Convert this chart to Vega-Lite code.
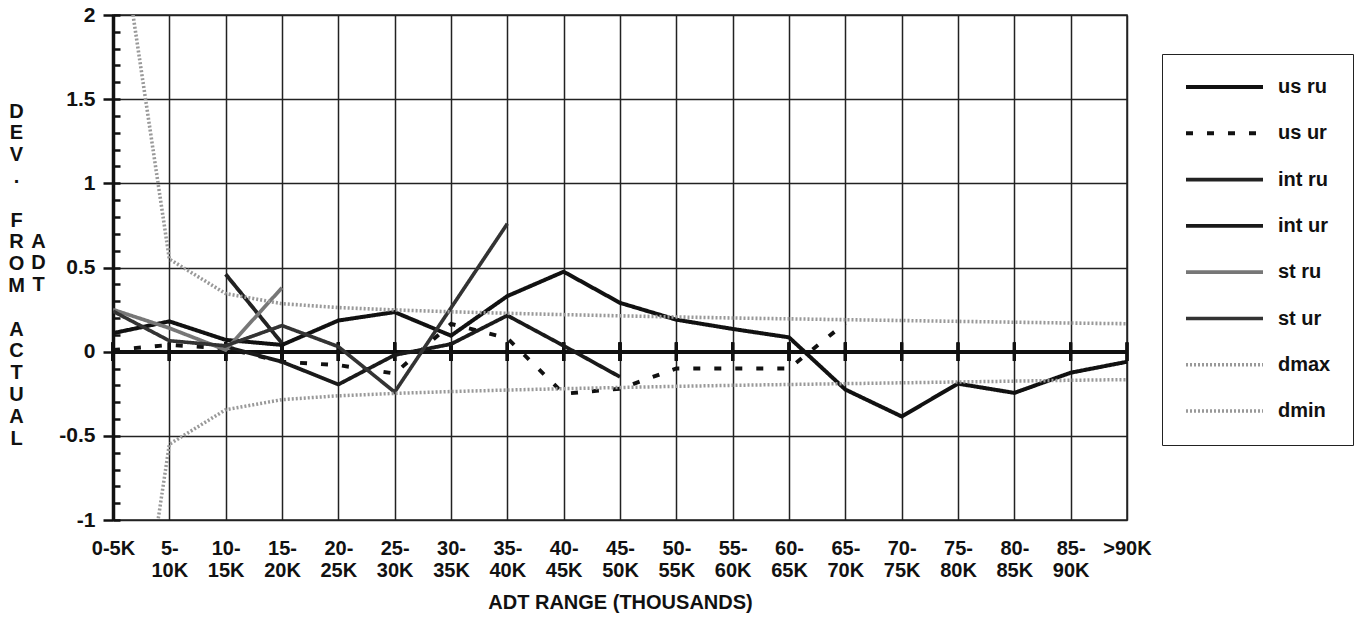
{
  "$schema": "https://vega.github.io/schema/vega-lite/v6.json",
  "width": 1014,
  "height": 505,
  "autosize": {"type": "none"},
  "padding": {"left": 113, "top": 15, "right": 229, "bottom": 106},
  "background": "white",
  "config": {
    "view": {"stroke": "#222", "strokeWidth": 1.5},
    "font": "Liberation Sans"
  },
  "data": {
    "values": [
      {"c": "0-5K", "s": "us ru", "v": 0.11}, {"c": "5-10K", "s": "us ru", "v": 0.18}, {"c": "10-15K", "s": "us ru", "v": 0.07}, {"c": "15-20K", "s": "us ru", "v": 0.04}, {"c": "20-25K", "s": "us ru", "v": 0.185}, {"c": "25-30K", "s": "us ru", "v": 0.235}, {"c": "30-35K", "s": "us ru", "v": 0.095}, {"c": "35-40K", "s": "us ru", "v": 0.33}, {"c": "40-45K", "s": "us ru", "v": 0.475}, {"c": "45-50K", "s": "us ru", "v": 0.29}, {"c": "50-55K", "s": "us ru", "v": 0.19}, {"c": "55-60K", "s": "us ru", "v": 0.135}, {"c": "60-65K", "s": "us ru", "v": 0.085}, {"c": "65-70K", "s": "us ru", "v": -0.225}, {"c": "70-75K", "s": "us ru", "v": -0.385}, {"c": "75-80K", "s": "us ru", "v": -0.19}, {"c": "80-85K", "s": "us ru", "v": -0.245}, {"c": "85-90K", "s": "us ru", "v": -0.125}, {"c": ">90K", "s": "us ru", "v": -0.06},
      {"c": "0-5K", "s": "us ur", "v": 0.01}, {"c": "5-10K", "s": "us ur", "v": 0.04}, {"c": "10-15K", "s": "us ur", "v": 0.02}, {"c": "15-20K", "s": "us ur", "v": -0.06}, {"c": "20-25K", "s": "us ur", "v": -0.08}, {"c": "25-30K", "s": "us ur", "v": -0.13}, {"c": "30-35K", "s": "us ur", "v": 0.165}, {"c": "35-40K", "s": "us ur", "v": 0.08}, {"c": "40-45K", "s": "us ur", "v": -0.25}, {"c": "45-50K", "s": "us ur", "v": -0.22}, {"c": "50-55K", "s": "us ur", "v": -0.1}, {"c": "55-60K", "s": "us ur", "v": -0.1}, {"c": "60-65K", "s": "us ur", "v": -0.1}, {"c": "65-70K", "s": "us ur", "v": 0.17},
      {"c": "10-15K", "s": "int ru", "v": 0.46}, {"c": "15-20K", "s": "int ru", "v": 0.05},
      {"c": "10-15K", "s": "int ur", "v": 0.03}, {"c": "15-20K", "s": "int ur", "v": -0.06}, {"c": "20-25K", "s": "int ur", "v": -0.195}, {"c": "25-30K", "s": "int ur", "v": -0.02}, {"c": "30-35K", "s": "int ur", "v": 0.045}, {"c": "35-40K", "s": "int ur", "v": 0.215}, {"c": "40-45K", "s": "int ur", "v": 0.035}, {"c": "45-50K", "s": "int ur", "v": -0.15},
      {"c": "0-5K", "s": "st ru", "v": 0.25}, {"c": "5-10K", "s": "st ru", "v": 0.14}, {"c": "10-15K", "s": "st ru", "v": 0.01}, {"c": "15-20K", "s": "st ru", "v": 0.38},
      {"c": "0-5K", "s": "st ur", "v": 0.24}, {"c": "5-10K", "s": "st ur", "v": 0.065}, {"c": "10-15K", "s": "st ur", "v": 0.035}, {"c": "15-20K", "s": "st ur", "v": 0.155}, {"c": "20-25K", "s": "st ur", "v": 0.03}, {"c": "25-30K", "s": "st ur", "v": -0.24}, {"c": "30-35K", "s": "st ur", "v": 0.26}, {"c": "35-40K", "s": "st ur", "v": 0.76},
      {"c": "0-5K", "s": "dmax", "v": 2.8}, {"c": "5-10K", "s": "dmax", "v": 0.55}, {"c": "10-15K", "s": "dmax", "v": 0.345}, {"c": "15-20K", "s": "dmax", "v": 0.285}, {"c": "20-25K", "s": "dmax", "v": 0.262}, {"c": "25-30K", "s": "dmax", "v": 0.248}, {"c": "30-35K", "s": "dmax", "v": 0.237}, {"c": "35-40K", "s": "dmax", "v": 0.228}, {"c": "40-45K", "s": "dmax", "v": 0.22}, {"c": "45-50K", "s": "dmax", "v": 0.213}, {"c": "50-55K", "s": "dmax", "v": 0.206}, {"c": "55-60K", "s": "dmax", "v": 0.2}, {"c": "60-65K", "s": "dmax", "v": 0.195}, {"c": "65-70K", "s": "dmax", "v": 0.19}, {"c": "70-75K", "s": "dmax", "v": 0.185}, {"c": "75-80K", "s": "dmax", "v": 0.18}, {"c": "80-85K", "s": "dmax", "v": 0.175}, {"c": "85-90K", "s": "dmax", "v": 0.17}, {"c": ">90K", "s": "dmax", "v": 0.166},
      {"c": "0-5K", "s": "dmin", "v": -2.8}, {"c": "5-10K", "s": "dmin", "v": -0.55}, {"c": "10-15K", "s": "dmin", "v": -0.345}, {"c": "15-20K", "s": "dmin", "v": -0.285}, {"c": "20-25K", "s": "dmin", "v": -0.262}, {"c": "25-30K", "s": "dmin", "v": -0.248}, {"c": "30-35K", "s": "dmin", "v": -0.237}, {"c": "35-40K", "s": "dmin", "v": -0.228}, {"c": "40-45K", "s": "dmin", "v": -0.22}, {"c": "45-50K", "s": "dmin", "v": -0.213}, {"c": "50-55K", "s": "dmin", "v": -0.206}, {"c": "55-60K", "s": "dmin", "v": -0.2}, {"c": "60-65K", "s": "dmin", "v": -0.195}, {"c": "65-70K", "s": "dmin", "v": -0.19}, {"c": "70-75K", "s": "dmin", "v": -0.185}, {"c": "75-80K", "s": "dmin", "v": -0.18}, {"c": "80-85K", "s": "dmin", "v": -0.175}, {"c": "85-90K", "s": "dmin", "v": -0.17}, {"c": ">90K", "s": "dmin", "v": -0.166}
    ]
  },
  "resolve": {"axis": {"y": "independent"}},
  "layer": [
    {
      "mark": {"type": "rule", "strokeWidth": 3.5, "color": "#111"},
      "encoding": {
        "y": {
          "datum": 0,
          "type": "quantitative",
          "axis": {
            "orient": "left",
            "values": [-1, -0.9, -0.8, -0.7, -0.6, -0.5, -0.4, -0.3, -0.2, -0.1, 0, 0.1, 0.2, 0.3, 0.4, 0.5, 0.6, 0.7, 0.8, 0.9, 1, 1.1, 1.2, 1.3, 1.4, 1.5, 1.6, 1.7, 1.8, 1.9, 2],
            "offset": -7,
            "tickSize": 7,
            "tickWidth": 2.5,
            "tickColor": "#111",
            "labels": false,
            "domain": false,
            "grid": false,
            "title": ["A", "D", "T"],
            "titleAngle": 0,
            "titleAlign": "center",
            "titleBaseline": "top",
            "titleX": -82,
            "titleY": 216,
            "titleFont": "Liberation Sans",
            "titleFontSize": 20,
            "titleFontWeight": "bold",
            "titleColor": "#111",
            "titleLineHeight": 21.8
          }
        }
      }
    },
    {
      "mark": {"type": "rule", "strokeWidth": 3.5, "color": "#111"},
      "encoding": {
        "y": {
          "datum": 0,
          "type": "quantitative",
          "axis": {
            "orient": "left",
            "ticks": false,
            "labels": false,
            "domain": false,
            "grid": false,
            "title": ["A", "C", "T", "U", "A", "L"],
            "titleAngle": 0,
            "titleAlign": "center",
            "titleBaseline": "top",
            "titleX": -97,
            "titleY": 304,
            "titleFont": "Liberation Sans",
            "titleFontSize": 20,
            "titleFontWeight": "bold",
            "titleColor": "#111",
            "titleLineHeight": 21.8
          }
        }
      }
    },
    {
      "mark": {"type": "rule", "strokeWidth": 3, "color": "#111"},
      "encoding": {
        "x": {"field": "c", "type": "ordinal", "sort": ["0-5K","5-10K","10-15K","15-20K","20-25K","25-30K","30-35K","35-40K","40-45K","45-50K","50-55K","55-60K","60-65K","65-70K","70-75K","75-80K","80-85K","85-90K",">90K"], "scale": {"type": "point", "padding": 0}},
        "y": {
          "datum": -0.055,
          "type": "quantitative",
          "axis": {
            "orient": "left",
            "ticks": false,
            "labels": false,
            "domain": false,
            "grid": false,
            "title": ["F", "R", "O", "M"],
            "titleAngle": 0,
            "titleAlign": "center",
            "titleBaseline": "top",
            "titleX": -97,
            "titleY": 195,
            "titleFont": "Liberation Sans",
            "titleFontSize": 20,
            "titleFontWeight": "bold",
            "titleColor": "#111",
            "titleLineHeight": 21.8
          }
        },
        "y2": {"datum": 0.055}
      }
    },
    {
      "mark": {"type": "line", "clip": true, "strokeCap": "butt", "strokeJoin": "miter"},
      "encoding": {
        "x": {
          "field": "c",
          "type": "ordinal",
          "sort": ["0-5K","5-10K","10-15K","15-20K","20-25K","25-30K","30-35K","35-40K","40-45K","45-50K","50-55K","55-60K","60-65K","65-70K","70-75K","75-80K","80-85K","85-90K",">90K"],
          "scale": {"type": "point", "padding": 0},
          "axis": {
            "orient": "bottom",
            "domain": false,
            "ticks": false,
            "grid": true,
            "gridColor": "#222",
            "gridWidth": 1.5,
            "labelAngle": 0,
            "labelAlign": "center",
            "labelFlush": false,
            "labelBound": false,
            "labelFont": "Liberation Sans",
            "labelFontWeight": "bold",
            "labelFontSize": 20,
            "labelColor": "#111",
            "labelPadding": 28,
            "labelLineHeight": 22,
            "labelOverlap": false,
            "labelExpr": "(datum.value == '0-5K' || datum.value == '>90K') ? datum.value : [split(datum.value, '-')[0] + '-', split(datum.value, '-')[1]]",
            "title": "ADT RANGE (THOUSANDS)",
            "titleFont": "Liberation Sans",
            "titleFontSize": 20,
            "titleFontWeight": "bold",
            "titleColor": "#111",
            "titlePadding": 12
          }
        },
        "y": {
          "field": "v",
          "type": "quantitative",
          "scale": {"domain": [-1, 2], "nice": false, "zero": false},
          "axis": {
            "orient": "left",
            "values": [-1, -0.5, 0, 0.5, 1, 1.5, 2],
            "labelExpr": "'' + datum.value",
            "grid": true,
            "gridColor": "#222",
            "gridWidth": 1.5,
            "domainColor": "#111",
            "domainWidth": 3.5,
            "tickColor": "#111",
            "tickWidth": 2.5,
            "tickSize": 10,
            "labelFont": "Liberation Sans",
            "labelFontWeight": "bold",
            "labelFontSize": 21,
            "labelColor": "#111",
            "labelPadding": 8,
            "title": ["D", "E", "V", "."],
            "titleAngle": 0,
            "titleAlign": "center",
            "titleBaseline": "top",
            "titleX": -97,
            "titleY": 86,
            "titleFont": "Liberation Sans",
            "titleFontSize": 20,
            "titleFontWeight": "bold",
            "titleColor": "#111",
            "titleLineHeight": 21.8
          }
        },
        "color": {
          "field": "s",
          "type": "nominal",
          "scale": {"domain": ["us ru", "us ur", "int ru", "int ur", "st ru", "st ur", "dmax", "dmin"], "range": ["#111", "#111", "#222", "#1a1a1a", "#777", "#333", "#999", "#999"]},
          "legend": {"orient": "none", "legendX": 1049, "legendY": 39, "title": null, "strokeColor": "#222", "padding": 22, "symbolType": "stroke", "symbolSize": 5929, "clipHeight": 22, "rowPadding": 24.3, "labelFont": "Liberation Sans", "labelFontWeight": "bold", "labelFontSize": 20, "labelColor": "#111", "labelOffset": 13}
        },
        "strokeWidth": {
          "field": "s",
          "type": "nominal",
          "scale": {"domain": ["us ru", "us ur", "int ru", "int ur", "st ru", "st ur", "dmax", "dmin"], "range": [4, 3.5, 2.5, 3.5, 1.5, 2.5, 1.5, 1.5]},
          "legend": {"orient": "none", "legendX": 1049, "legendY": 39, "title": null, "strokeColor": "#222", "padding": 22, "symbolType": "stroke", "symbolSize": 5929, "clipHeight": 22, "rowPadding": 24.3, "labelFont": "Liberation Sans", "labelFontWeight": "bold", "labelFontSize": 20, "labelColor": "#111", "labelOffset": 13}
        },
        "strokeDash": {
          "field": "s",
          "type": "nominal",
          "scale": {"domain": ["us ru", "us ur", "int ru", "int ur", "st ru", "st ur", "dmax", "dmin"], "range": [[1, 0], [7, 14], [1, 0], [1, 0], [1, 0], [1, 0], [2, 2], [2, 2]]},
          "legend": {"orient": "none", "legendX": 1049, "legendY": 39, "title": null, "strokeColor": "#222", "padding": 22, "symbolType": "stroke", "symbolSize": 5929, "clipHeight": 22, "rowPadding": 24.3, "labelFont": "Liberation Sans", "labelFontWeight": "bold", "labelFontSize": 20, "labelColor": "#111", "labelOffset": 13}
        }
      }
    }
  ]
}
